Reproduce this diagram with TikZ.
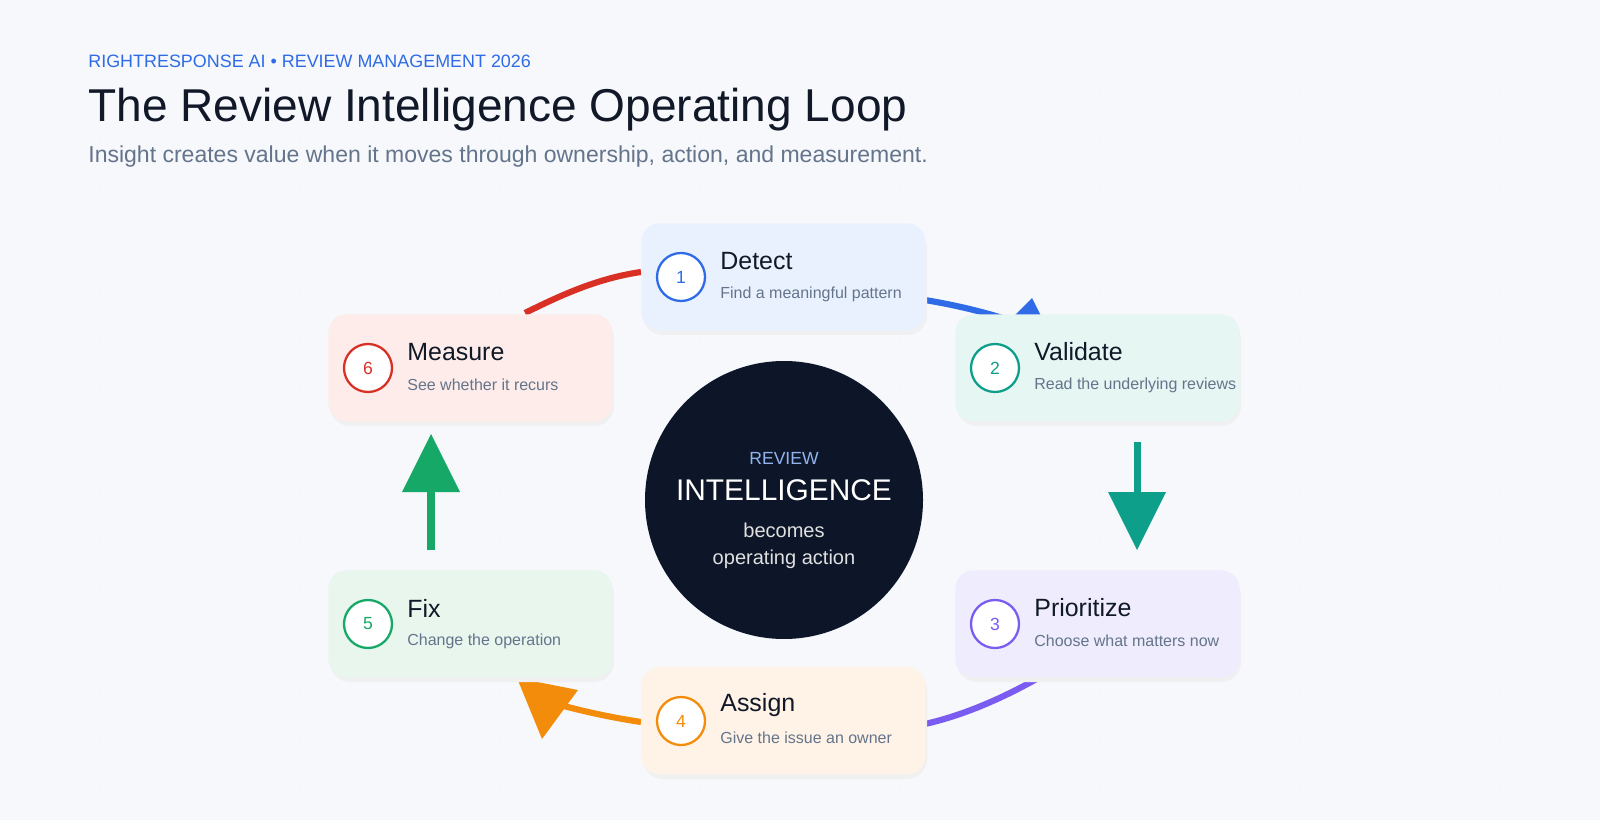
\documentclass[tikz,border=0pt]{standalone}
\usepackage{fontspec}
\setmainfont{Liberation Sans}
\usetikzlibrary{positioning}
\definecolor{bgc}{HTML}{F6F8FB}
\definecolor{ink}{HTML}{111827}
\definecolor{muted}{HTML}{64748B}
\definecolor{cblue}{HTML}{2F6BE6}
\definecolor{cteal}{HTML}{0E9F8A}
\definecolor{cpurple}{HTML}{7B5CF0}
\definecolor{corange}{HTML}{F28C0A}
\definecolor{cgreen}{HTML}{16A866}
\definecolor{cred}{HTML}{D93025}
\definecolor{fblue}{HTML}{EAF1FE}
\definecolor{fteal}{HTML}{E6F6F3}
\definecolor{fpurple}{HTML}{EFEDFD}
\definecolor{forange}{HTML}{FEF3E6}
\definecolor{fgreen}{HTML}{E8F6EE}
\definecolor{fred}{HTML}{FDECEA}
\definecolor{hub}{HTML}{0D1628}
\definecolor{hubk}{HTML}{93B4F0}
\begin{document}
\begin{tikzpicture}[x=0.2mm,y=-0.2mm,
  card/.style={draw=none,rounded corners=18*0.2mm,minimum width=284*0.2mm,minimum height=107*0.2mm,inner sep=0pt},
  num/.style={circle,draw,line width=1.3pt,fill=white,minimum size=48*0.2mm,inner sep=0pt,font=\fontsize{10}{10}\selectfont},
  ttl/.style={anchor=west,inner sep=0pt,text=ink,font=\fontsize{14.2}{16}\selectfont},
  sub/.style={anchor=west,inner sep=0pt,text=muted,font=\fontsize{9.1}{11}\selectfont},
  arc/.style={line width=3.5pt}]
\fill[bgc] (0,0) rectangle (1600,820);
\useasboundingbox (0,0) rectangle (1600,820);
% faint dot grid
\foreach \i in {0,...,31} \foreach \j in {0,...,15}
  \fill[black!8] (50*\i,40+50*\j) circle (0.35pt);

\node[anchor=west,inner sep=0pt,text=cblue,font=\fontsize{10.2}{12}\selectfont] (kicker) at (88,61) {RIGHTRESPONSE AI • REVIEW MANAGEMENT 2026};
\node[anchor=west,inner sep=0pt,text=ink,font=\fontsize{26.2}{30}\selectfont] (title) at (88,110) {The Review Intelligence Operating Loop};
\node[anchor=west,inner sep=0pt,text=muted,font=\fontsize{13.1}{15}\selectfont] (subtitle) at (88,157) {Insight creates value when it moves through ownership, action, and measurement.};

% loop connectors
\coordinate (r1) at (525,313); \coordinate (r2) at (641,272);
\draw[arc,cred] (r1) .. controls (565,293) and (600,278) .. (r2);
\coordinate (b1) at (925,300); \coordinate (b2) at (1015,322);
\draw[arc,cblue] (b1) .. controls (955,305) and (985,312) .. (b2);
\fill[cblue] (1032,298) -- (1000,330) -- (1048,330) -- cycle;
\coordinate (p1) at (1040,677); \coordinate (p2) at (925,724);
\draw[arc,cpurple] (p1) .. controls (1005,697) and (965,715) .. (p2);
\coordinate (o1) at (641,722); \coordinate (o2) at (560,705);
\draw[arc,corange] (o1) .. controls (615,718) and (590,713) .. (o2);
\fill[corange] (517,678) -- (578,690) -- (542,739) -- cycle;
\coordinate (t1) at (1137,442); \coordinate (t2) at (1137,500);
\draw[line width=4pt,cteal] (t1) -- (t2);
\fill[cteal] (1108,492) -- (1166,492) -- (1137,550) -- cycle;
\coordinate (g1) at (431,550); \coordinate (g2) at (431,485);
\draw[line width=4pt,cgreen] (g1) -- (g2);
\fill[cgreen] (402,492) -- (460,492) -- (431,434) -- cycle;

% hub
\node[circle,fill=hub,minimum size=278*0.2mm,inner sep=0pt] (hubc) at (784,500) {};
\node[text=hubk,font=\fontsize{10}{10}\selectfont] (hubk) at (784,458) {REVIEW};
\node[text=white,font=\fontsize{17}{18}\selectfont] (hubt) at (784,490) {INTELLIGENCE};
\node[text=white!88!black,align=center,font=\fontsize{11.4}{15.3}\selectfont] (hubs) at (784,546) {becomes\\operating action};

% cards
\foreach \n/\x/\y/\c/\f/\t/\s in {
  1/641/223/cblue/fblue/Detect/Find a meaningful pattern,
  2/955/314/cteal/fteal/Validate/Read the underlying reviews,
  3/955/570/cpurple/fpurple/Prioritize/Choose what matters now,
  4/641/667/corange/forange/Assign/Give the issue an owner,
  5/328/570/cgreen/fgreen/Fix/Change the operation,
  6/328/314/cred/fred/Measure/See whether it recurs}{
  \fill[black!6,rounded corners=4mm] (\x+2,\y+5) rectangle (\x+286,\y+112);
  \node[card,fill=\f,anchor=north west] (card\n) at (\x,\y) {};
  \node[num,draw=\c,text=\c] (num\n) at (\x+40,\y+54) {\n};
  \node[ttl] (ttl\n) at (\x+79,\y+38) {\t};
  \node[sub] (sub\n) at (\x+79,\y+71) {\s};
}
\end{tikzpicture}
\end{document}
